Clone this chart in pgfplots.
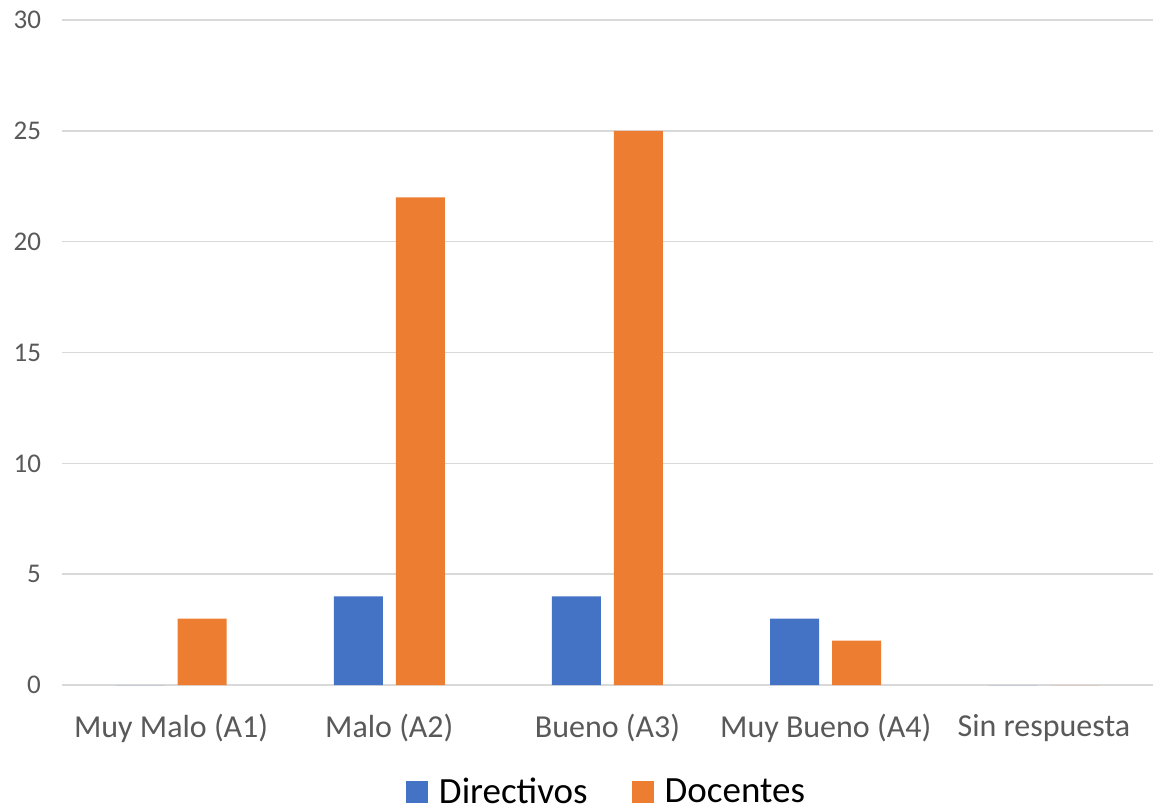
\documentclass[border=0pt]{standalone}
\usepackage{pgfplots}
\pgfplotsset{compat=1.18}
\usepackage{fontspec}
\setmainfont{Carlito}
\definecolor{cblue}{HTML}{4472C4}
\definecolor{corange}{HTML}{ED7D31}
\definecolor{cgrid}{HTML}{D9D9D9}
\definecolor{ctext}{HTML}{595959}
\begin{document}
\begin{tikzpicture}
\useasboundingbox (-31pt,-62.5pt) rectangle (545.5pt,342.5pt);
\begin{axis}[
  at={(0,0)}, anchor=south west,
  scale only axis,
  width=545.5pt, height=332.5pt,
  xmin=-0.5, xmax=4.5,
  ymin=0, ymax=30,
  ytick={0,5,10,15,20,25,30},
  xtick={0,1,2,3,4},
  xticklabels={Muy Malo (A1),Malo (A2),Bueno (A3),Muy Bueno (A4),Sin respuesta},
  ybar=0pt,
  bar width=24.5pt,
  bar shift auto,
  ymajorgrids,
  grid style={cgrid, line width=0.75pt},
  axis line style={draw=none},
  major tick length=0pt,
  /pgf/number format/assume math mode=true,
  yticklabel style={font=\fontsize{13.5}{15}\selectfont, text=ctext, anchor=east, xshift=-7pt},
  xticklabel style={font=\fontsize{16}{18}\selectfont, text=ctext, yshift=-11pt},
  legend style={at={(0.5,-0.161)}, anchor=center, draw=none, legend columns=2,
    font=\fontsize{18.5}{20}\selectfont, column sep=0pt,
    /tikz/every odd column/.append style={column sep=3.5pt},
    /tikz/every even column/.append style={column sep=20pt}},
  legend image code/.code={\fill[#1] (0pt,-5.5pt) rectangle (11pt,5.5pt);},
]
\addplot[fill=cblue, draw=none, bar shift=-15.5pt] coordinates {(0,0) (1,4) (2,4) (3,3) (4,0)};
\addplot[fill=corange, draw=none, bar shift=15.5pt] coordinates {(0,3) (1,22) (2,25) (3,2) (4,0)};
\legend{Directivos,Docentes}
\end{axis}
\end{tikzpicture}
\end{document}
